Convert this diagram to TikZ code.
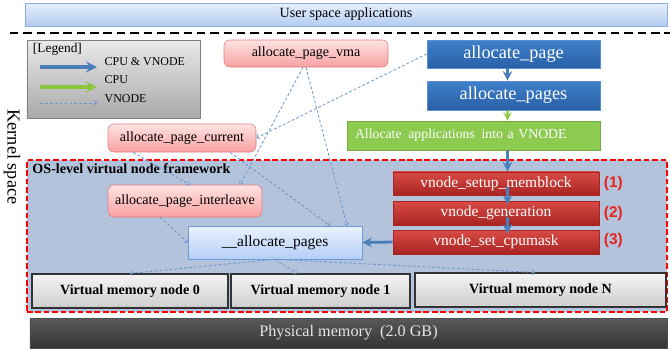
\documentclass[tikz,border=0pt]{standalone}
\usepackage{fontspec}
\setmainfont{Liberation Serif}
\newfontfamily\numfont{Liberation Sans}
\usepackage{xcolor}
\usepackage{tikz}
\usetikzlibrary{arrows, positioning, calc}

\definecolor{usrtop}{HTML}{E6EFFD}
\definecolor{usrbot}{HTML}{B3CCF1}
\definecolor{usrline}{HTML}{8FAFDC}
\definecolor{pinktop}{HTML}{FFE2E2}
\definecolor{pinkbot}{HTML}{F7A1A1}
\definecolor{pinkline}{HTML}{E27C7C}
\definecolor{bluetop}{HTML}{3F80CA}
\definecolor{bluebot}{HTML}{2860A6}
\definecolor{blueline}{HTML}{5C8FD0}
\definecolor{redtop}{HTML}{D94B46}
\definecolor{redbot}{HTML}{A82421}
\definecolor{greenfill}{HTML}{8DCA50}
\definecolor{greenline}{HTML}{76A940}
\definecolor{frameblue}{HTML}{B3C3DC}
\definecolor{lighttop}{HTML}{EAF2FE}
\definecolor{lightbot}{HTML}{B4CFF6}
\definecolor{lightline}{HTML}{6F9AD5}
\definecolor{graytop}{HTML}{F5F5F5}
\definecolor{graybot}{HTML}{CDCDCD}
\definecolor{legtop}{HTML}{E9E9E9}
\definecolor{legbot}{HTML}{A9A9A9}
\definecolor{phystop}{HTML}{5A5A5A}
\definecolor{physbot}{HTML}{333333}
\definecolor{arrowblue}{HTML}{4A7EBB}
\definecolor{arrowgreen}{HTML}{8CC63F}
\definecolor{dashblue}{HTML}{6B98CF}
\definecolor{numred}{HTML}{E8231E}

\tikzstyle{EMPTY}    = [draw=none, text centered, inner sep=1pt]
\tikzstyle{USRBAR}   = [draw=usrline,          % color for LINES
                        top color=usrtop,       % gradient fill
                        bottom color=usrbot,
                        rectangle,
                        text centered,
                        font=\fontsize{10}{12}\selectfont]
\tikzstyle{LEGEND}   = [draw=gray,
                        top color=legtop,
                        bottom color=legbot,
                        rectangle]
\tikzstyle{PINK}     = [draw=pinkline,         % color for LINES
                        top color=pinktop,
                        bottom color=pinkbot,
                        rounded corners=1.5mm,  % round box
                        text centered,
                        rectangle,
                        font=\fontsize{10}{12}\selectfont]
\tikzstyle{BLUEBOX}  = [draw=blueline,
                        top color=bluetop,
                        bottom color=bluebot,
                        text=white,
                        text centered,
                        rectangle,
                        font=\fontsize{13}{15}\selectfont]
\tikzstyle{GREENBOX} = [draw=greenline,
                        fill=greenfill,
                        text=white,
                        rectangle,
                        inner sep=2mm,
                        align=left,
                        font=\fontsize{9.8}{12}\selectfont]
\tikzstyle{REDBOX}   = [draw=redbot,
                        top color=redtop,
                        bottom color=redbot,
                        text=white,
                        text centered,
                        rectangle,
                        minimum width=51.5mm,
                        font=\fontsize{11}{13}\selectfont]
\tikzstyle{LIGHTBOX} = [draw=lightline,
                        top color=lighttop,
                        bottom color=lightbot,
                        text centered,
                        rectangle,
                        font=\fontsize{11}{13}\selectfont]
\tikzstyle{MEMBOX}   = [draw=black!80,
                        line width=0.8pt,
                        top color=graytop,
                        bottom color=graybot,
                        text centered,
                        rectangle,
                        minimum height=8.5mm,
                        font=\bfseries\fontsize{10}{12}\selectfont]
\tikzstyle{PHYSBAR}  = [draw=black!70,
                        top color=phystop,
                        bottom color=physbot,
                        text=white!90!black,
                        rectangle,
                        font=\fontsize{11.5}{13}\selectfont]
\tikzstyle{FRAME}    = [draw=red,              % red dashed border
                        line width=1.4pt,
                        dash pattern=on 4pt off 2pt,
                        fill=frameblue,
                        rectangle]
\tikzstyle{STEPNUM}  = [text=numred, inner sep=0.5mm,
                        font=\numfont\bfseries\fontsize{11}{13}\selectfont]
\tikzstyle{SEP}      = [black, line width=2.1pt, dash pattern=on 6pt off 3.5pt]
\tikzstyle{ARROW}    = [draw=arrowblue, line width=2pt, ->, >=stealth]
\tikzstyle{GARROW}   = [draw=arrowgreen, line width=1.6pt, ->, >=stealth]
\tikzstyle{DARROW}   = [draw=dashblue, line width=0.6pt, dash pattern=on 2pt off 1.5pt, ->, >=to]

\begin{document}
\begin{tikzpicture}[x=0.25mm, y=-0.25mm]
	\useasboundingbox (0,0) rectangle (670,350);
	
	% User space and kernel space
	\node(usr)[USRBAR, minimum width=160.5mm, minimum height=5.75mm] at (346,14.5)
	{
		User space applications
	};
	\coordinate (sepL) at (10,33);
	\coordinate (sepR) at (670,33);
	\draw[SEP] (sepL) -- (sepR);
	\node(kern)[EMPTY, rotate=-90, font=\fontsize{13}{15}\selectfont] at (12,157)
	{
		Kernel space
	};
	
	
	
	% Framework area
	\node(frame)[FRAME, minimum width=160mm, minimum height=38mm] at (347,236) {};
	\node(fwname)[EMPTY, anchor=north west, font=\bfseries\fontsize{10}{12}\selectfont]
	at ([xshift=1.2mm, yshift=-0.6mm]frame.north west)
	{
		OS-level virtual node framework
	};
	
	
	
	% Legend
	\node(legend)[LEGEND, minimum width=43.25mm, minimum height=19.5mm] at (113.5,79) {};
	\node(legtitle)[EMPTY, anchor=north west, inner sep=0pt, font=\fontsize{9.5}{11}\selectfont]
	at ([xshift=1.5mm, yshift=-0.8mm]legend.north west)
	{
		[Legend]
	};
	\coordinate (lgA1) at (40,67);  \coordinate (lgA2) at (97,67);
	\coordinate (lgB1) at (40,87);  \coordinate (lgB2) at (97,87);
	\coordinate (lgC1) at (40,103); \coordinate (lgC2) at (97,103);
	\draw[ARROW, line width=2.4pt] (lgA1) -- (lgA2);
	\draw[GARROW, line width=2.4pt] (lgB1) -- (lgB2);
	\draw[DARROW] (lgC1) -- (lgC2);
	\node(lgtxtA)[EMPTY, anchor=west, font=\fontsize{8.5}{10}\selectfont] at (103,62) {CPU \& VNODE};
	\node(lgtxtB)[EMPTY, anchor=west, font=\fontsize{8.5}{10}\selectfont] at (103,80) {CPU};
	\node(lgtxtC)[EMPTY, anchor=west, font=\fontsize{8.5}{10}\selectfont] at (103,99) {VNODE};
	
	
	
	% Allocation entry points
	\node(vma)[PINK, minimum width=41mm, minimum height=6.75mm] at (306,53.5)
	{
		allocate\_page\_vma
	};
	\node(cur)[PINK, minimum width=37mm, minimum height=7mm] at (182,138)
	{
		allocate\_page\_current
	};
	\node(il)[PINK, minimum width=38.5mm, minimum height=8mm] at (185,201)
	{
		allocate\_page\_interleave
	};
	\node(ap2)[LIGHTBOX, minimum width=43.5mm, minimum height=8.25mm] at (275,242.5)
	{
		\_\_allocate\_pages
	};
	
	
	
	% CPU path
	\node(ap)[BLUEBOX, minimum width=43.25mm, minimum height=7mm] at (513.5,54)
	{
		allocate\_page
	};
	\node(aps)[BLUEBOX, below of=ap, node distance=10.375mm, minimum width=43.25mm, minimum height=7.25mm]
	{
		allocate\_pages
	};
	\node(green)[GREENBOX, minimum width=63.25mm, minimum height=7.25mm, text width=59.25mm] at (473.5,135.5)
	{
		Allocate\hspace{1.5pt} applications\hspace{1.5pt} into a VNODE
	};
	
	
	
	% VNODE steps
	\node(mem)[REDBOX, minimum height=5.75mm] at (496,183.5)
	{
		vnode\_setup\_memblock
	};
	\node(gen)[REDBOX, below of=mem, node distance=7.375mm, minimum height=6mm]
	{
		vnode\_generation
	};
	\node(cpu)[REDBOX, below of=gen, node distance=7.25mm, minimum height=6mm]
	{
		vnode\_set\_cpumask
	};
	\node(n1)[STEPNUM, right=0.6mm of mem] {(1)};
	\node(n2)[STEPNUM, right=0.6mm of gen, yshift=-0.2mm] {(2)};
	\node(n3)[STEPNUM, right=0.6mm of cpu, yshift=0.4mm] {(3)};
	
	
	
	% Memory nodes
	\node(vm0)[MEMBOX, minimum width=49mm] at (130,291) {Virtual memory node 0};
	\node(vm1)[MEMBOX, minimum width=44.75mm] at (320.5,291) {Virtual memory node 1};
	\node(vmN)[MEMBOX, minimum width=62.75mm] at (540.5,290) {Virtual memory node N};
	\node(phys)[PHYSBAR, minimum width=159.25mm, minimum height=7.5mm] at (348.5,333)
	{
		Physical memory\ \ (2.0 GB)
	};
	
	
	
	% CPU & VNODE arrows
	\draw[ARROW] ([xshift=-1.5mm]ap.south) -- ([xshift=-1.5mm]aps.north);
	\draw[GARROW] ([xshift=-1.5mm]aps.south) -- ([xshift=8.5mm]green.north);
	\draw[ARROW] ([xshift=8.5mm]green.south) -- ([xshift=2.875mm]mem.north);
	\draw[ARROW] ([xshift=2.875mm, yshift=2mm]mem.south) -- ([xshift=2.875mm, yshift=-1mm]gen.north);
	\draw[ARROW] ([xshift=2.875mm, yshift=2mm]gen.south) -- ([xshift=2.875mm, yshift=-1mm]cpu.north);
	\draw[ARROW] (cpu.west) -- (ap2.east);
	% VNODE arrows
	\draw[DARROW] (ap.west) -- (cur.east);
	\draw[DARROW] ([xshift=-0.75mm]vma.south) -- ([xshift=13.75mm]il.north);
	\draw[DARROW] (vma.south) -- ([xshift=18mm]ap2.north);
	\draw[DARROW] ([xshift=12mm]cur.south) -- ([xshift=13.75mm]ap2.north);
	\draw[DARROW] ([xshift=-12.25mm]cur.south) -- ([xshift=1.25mm]il.north);
	\draw[DARROW] ([xshift=-6.25mm]il.south) -- (ap2.west);
	% to the memory nodes
	\draw[DARROW] (ap2.south) -- (vm0.north);
	\draw[DARROW] (ap2.south) -- ([xshift=-5.9mm]vm1.north);
	\draw[DARROW] (ap2.south) -- ([xshift=-1.4mm]vmN.north);
	
\end{tikzpicture}
\end{document}
